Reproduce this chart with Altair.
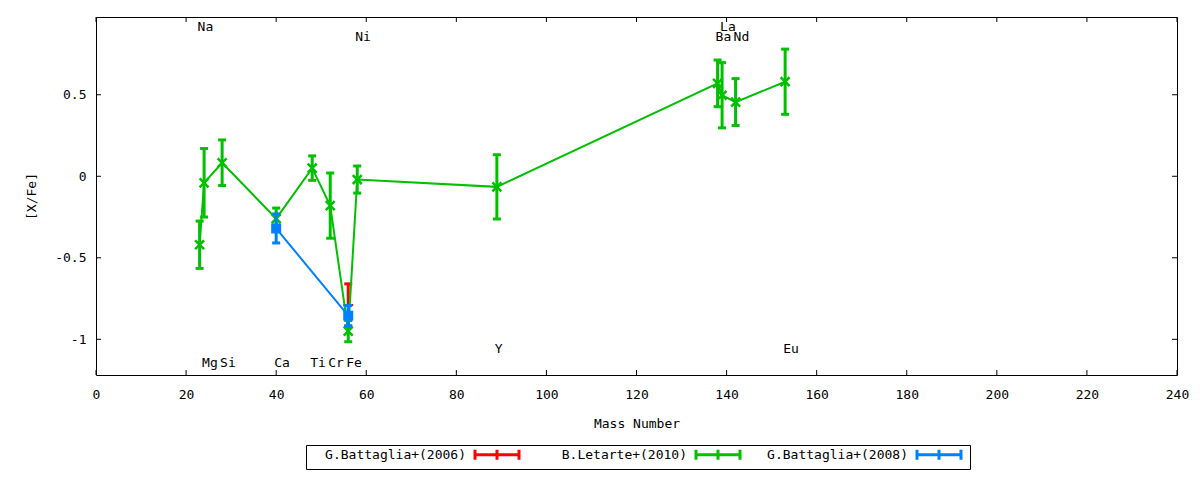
import altair as alt
import pandas as pd

FONT = "DejaVu Sans Mono"

series_names = ["G.Battaglia+(2006)", "B.Letarte+(2010)", "G.Battaglia+(2008)"]
series_colors = ["#ff0000", "#00c000", "#0080ff"]

# G.Battaglia+(2006)
bat06_mass = [56]
bat06_xfe = [-0.79]
bat06_err = [0.13]

# B.Letarte+(2010)
let10_mass = [23, 24, 28, 40, 48, 52, 56, 58, 89, 138, 139, 142, 153]
let10_xfe = [-0.42, -0.04, 0.083, -0.26, 0.05, -0.18, -0.95, -0.02, -0.065, 0.57, 0.497, 0.455, 0.58]
let10_err = [0.145, 0.21, 0.14, 0.065, 0.075, 0.2, 0.065, 0.083, 0.197, 0.143, 0.2, 0.144, 0.2]

# G.Battaglia+(2008)
bat08_mass = [40, 56]
bat08_xfe = [-0.32, -0.855]
bat08_err = [0.089, 0.062]

# element labels
elem_names = ["Na", "Mg", "Si", "Ca", "Ti", "Cr", "Fe", "Ni", "Y", "Ba", "La", "Nd", "Eu"]
elem_mass = [23, 24, 28, 40, 48, 52, 56, 58, 89, 138, 139, 142, 153]
elem_level = [0.917, -1.145, -1.145, -1.145, -1.145, -1.145, -1.145, 0.855, -1.059, 0.855, 0.917, 0.855, -1.059]

x_ticks = [0, 20, 40, 60, 80, 100, 120, 140, 160, 180, 200, 220, 240]
y_ticks = [-1, -0.5, 0, 0.5]

rows = []
for name, ms, vs, es in [
    (series_names[0], bat06_mass, bat06_xfe, bat06_err),
    (series_names[1], let10_mass, let10_xfe, let10_err),
    (series_names[2], bat08_mass, bat08_xfe, bat08_err),
]:
    for m, v, e in zip(ms, vs, es):
        rows.append({"series": name, "mass": m, "xfe": v, "lo": v - e, "hi": v + e})
df = pd.DataFrame(rows)

elem_df = pd.DataFrame({"name": elem_names, "mass": elem_mass, "level": elem_level})
xt_df = pd.DataFrame({"t": x_ticks})
yt_df = pd.DataFrame({"t": y_ticks})

W, H = 1081, 358
xs = alt.Scale(domain=[0, 240], nice=False, zero=False)
ys = alt.Scale(domain=[-1.219, 0.977], nice=False, zero=False)
color_scale = alt.Scale(domain=series_names, range=series_colors)

xaxis = alt.Axis(values=x_ticks, title="Mass Number", ticks=False, tickSize=0, domain=False,
                 grid=False, labelFont=FONT, labelFontSize=13, labelColor="black",
                 labelPadding=13, labelFlush=False, titleFont=FONT, titleFontSize=13,
                 titleFontWeight="normal", titleColor="black", titlePadding=16)
yaxis = alt.Axis(values=y_ticks, title="[X/Fe]", ticks=False, tickSize=0, domain=False,
                 grid=False, labelFont=FONT, labelFontSize=13, labelColor="black",
                 labelPadding=10, labelFlush=False, labelExpr="'' + datum.value",
                 titleFont=FONT, titleFontSize=13, titleFontWeight="normal",
                 titleColor="black", titlePadding=16)

# legend symbol: an error-bar glyph drawn to the right of the (right-aligned) label
legend_symbol = "M3.1,0H11.9M3.1,-1V1M11.9,-1V1M7.5,-1V1"
legend = alt.Legend(title=None, orient="none", legendX=210, legendY=428, direction="horizontal",
                    strokeColor="black", padding=3, labelFont=FONT, labelFontSize=13,
                    labelColor="black", labelAlign="right", labelOffset=0, labelLimit=400,
                    labelExpr="'\u00a0\u00a0' + datum.label",
                    symbolOffset=144, symbolType=legend_symbol,
                    symbolSize=100, symbolStrokeWidth=3, columnPadding=5, symbolOpacity=1)

X = alt.X("mass:Q", scale=xs, axis=xaxis)
Y = alt.Y("xfe:Q", scale=ys, axis=yaxis)
COL = alt.Color("series:N", scale=color_scale, legend=legend)


def series_layers(name, shape, filled, size, sw):
    base = alt.Chart(df).transform_filter(alt.datum.series == name)
    line = base.mark_line(strokeWidth=2).encode(x=X, y=Y, color=COL)
    bars = base.mark_rule(strokeWidth=3).encode(x=X, y=alt.Y("lo:Q", scale=ys, axis=yaxis), y2="hi:Q", color=COL)
    cap_lo = base.mark_tick(orient="horizontal", size=8, thickness=3, opacity=1).encode(
        x=X, y=alt.Y("lo:Q", scale=ys, axis=yaxis), color=COL)
    cap_hi = base.mark_tick(orient="horizontal", size=8, thickness=3, opacity=1).encode(
        x=X, y=alt.Y("hi:Q", scale=ys, axis=yaxis), color=COL)
    pts = base.mark_point(shape=shape, filled=filled, size=size, strokeWidth=sw, opacity=1).encode(
        x=X, y=Y, color=COL)
    return [line, bars, cap_lo, cap_hi, pts]


layers = []
layers += series_layers(series_names[0], "M-1,0H1M0,-1V1", False, 100, 2)
layers += series_layers(series_names[1], "M-1,-1L1,1M-1,1L1,-1", False, 80, 2.5)
layers += series_layers(series_names[2], "square", True, 100, 0)

labels = alt.Chart(elem_df).mark_text(align="left", baseline="middle", dx=-2, font=FONT,
                                      fontSize=13, color="black").encode(
    x=alt.X("mass:Q", scale=xs, axis=xaxis), y=alt.Y("level:Q", scale=ys, axis=yaxis), text="name:N")

tick_b = alt.Chart(xt_df).mark_rule(color="black", strokeWidth=1).encode(
    x=alt.X("t:Q", scale=xs, axis=xaxis), y=alt.value(H), y2=alt.value(H - 5))
tick_t = alt.Chart(xt_df).mark_rule(color="black", strokeWidth=1).encode(
    x=alt.X("t:Q", scale=xs, axis=xaxis), y=alt.value(0), y2=alt.value(5))
tick_l = alt.Chart(yt_df).mark_rule(color="black", strokeWidth=1).encode(
    y=alt.Y("t:Q", scale=ys, axis=yaxis), x=alt.value(0), x2=alt.value(5))
tick_r = alt.Chart(yt_df).mark_rule(color="black", strokeWidth=1).encode(
    y=alt.Y("t:Q", scale=ys, axis=yaxis), x=alt.value(W), x2=alt.value(W - 5))

chart = alt.layer(tick_b, tick_t, tick_l, tick_r, labels, *layers).properties(
    width=W, height=H,
    autosize=alt.AutoSizeParams(type="none"),
    padding={"left": 88, "top": 9, "right": 15, "bottom": 97},
    background="white",
).configure_view(stroke="black", strokeWidth=1)

chart.save("out.html", embed_options={"renderer": "svg", "actions": False})
